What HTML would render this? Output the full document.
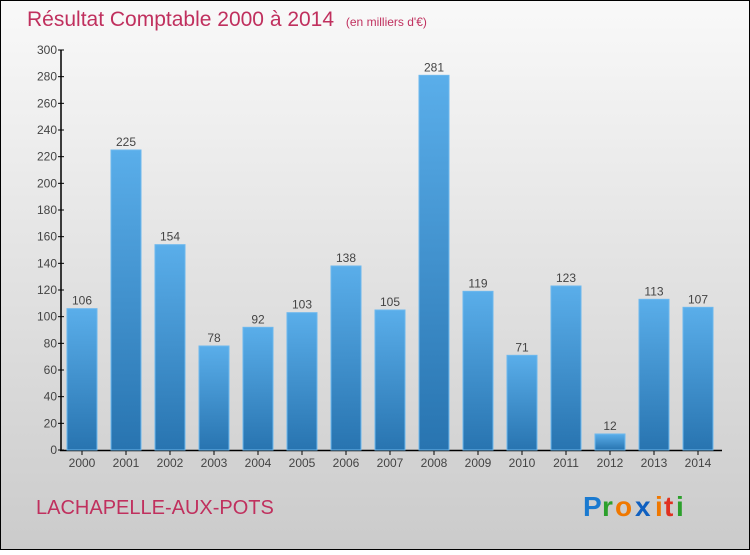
<!DOCTYPE html>
<html><head><meta charset="utf-8"><style>
body{margin:0;width:750px;height:550px;overflow:hidden;font-family:"Liberation Sans",sans-serif}
</style></head><body>
<svg width="750" height="550" xmlns="http://www.w3.org/2000/svg">
<defs>
<linearGradient id="bg" x1="0" y1="0" x2="0" y2="1"><stop offset="0" stop-color="#f9f9f9"/><stop offset="1" stop-color="#cbcbcb"/></linearGradient>
<linearGradient id="bar" x1="0" y1="0" x2="0" y2="1"><stop offset="0" stop-color="#5aaeea"/><stop offset="1" stop-color="#2874b0"/></linearGradient>
</defs>
<rect x="0.5" y="0.5" width="749" height="549" fill="url(#bg)" stroke="#000"/>
<text x="27" y="26" font-size="21" fill="#c0305e">Résultat Comptable 2000 à 2014 <tspan font-size="12" dx="6">(en milliers d'€)</tspan></text>
<g id="axes"></g>
<g id="bars"></g>
<text x="36" y="514" font-size="20" fill="#c0305e">LACHAPELLE-AUX-POTS</text>
<g font-size="28" font-weight="bold">
<text x="583" y="516" fill="#1a7ad0">P</text><text x="602" y="516" fill="#2ca02c">r</text><text x="615" y="516" fill="#f07800">o</text><text x="635" y="516" fill="#1060c0">x</text><text x="655" y="516" fill="#f07800">i</text><text x="664" y="516" fill="#e03020">t</text><text x="676" y="516" fill="#2ca02c">i</text>
</g>
</svg>
<script>
const years=["2000","2001","2002","2003","2004","2005","2006","2007","2008","2009","2010","2011","2012","2013","2014"];
const values=[106,225,154,78,92,103,138,105,281,119,71,123,12,113,107];
const yTicks=[0,20,40,60,80,100,120,140,160,180,200,220,240,260,280,300];
const NS="http://www.w3.org/2000/svg";
const y=v=>450-v*400/300;
const x=i=>82+44*i;
function mk(t,a,p){const e=document.createElementNS(NS,t);for(const k in a)e.setAttribute(k,a[k]);p.appendChild(e);return e;}
const ax=document.getElementById('axes'),bg=document.getElementById('bars');
let l=mk('line',{x1:61,y1:50,x2:61,y2:450.5,stroke:'#000','stroke-width':1.5},ax);


l=mk('line',{x1:60,y1:450.5,x2:722,y2:450.5,stroke:'#000','stroke-width':1.5},ax);


yTicks.forEach(v=>{
 mk('line',{x1:58,x2:64,y1:y(v),y2:y(v),stroke:'#000'},ax);
 const t=mk('text',{x:57,y:y(v)+4,'text-anchor':'end','font-size':12,fill:'#444'},ax);t.textContent=v;
 
 
});
years.forEach((yr,i)=>{
 mk('line',{x1:x(i),x2:x(i),y1:450,y2:455,stroke:'#000'},ax);
 const t=mk('text',{x:x(i),y:467,'text-anchor':'middle','font-size':12,fill:'#444'},ax);t.textContent=yr;
 
 
 const r=mk('rect',{x:x(i)-15,y:y(values[i]),width:30,height:450-y(values[i]),fill:'url(#bar)',stroke:'#6cb8ee','stroke-width':1},bg);
 
 
 const v=mk('text',{x:x(i),y:y(values[i])-4,'text-anchor':'middle','font-size':12,fill:'#444'},bg);v.textContent=values[i];
 
 
});
</script>
</body></html>
